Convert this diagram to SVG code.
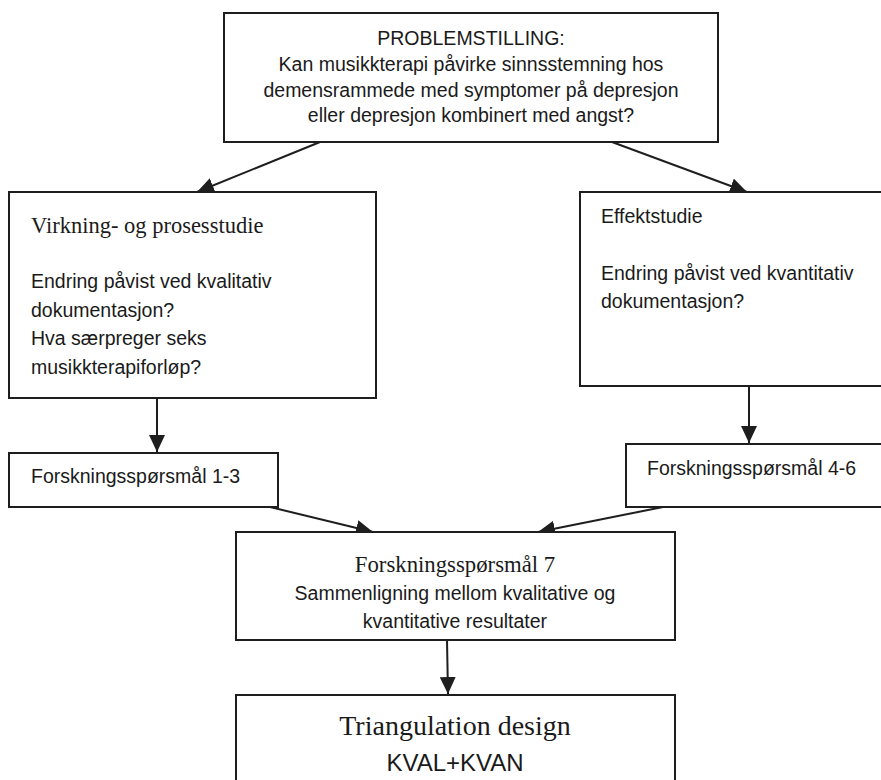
<svg xmlns="http://www.w3.org/2000/svg" width="881" height="780" viewBox="0 0 881 780">
<style>
.box{fill:#fff;stroke:#1e1e1e;stroke-width:2}
.sans{font-family:"Liberation Sans",Arial,sans-serif;font-size:19.5px;fill:#1a1a1a}
.serif{font-family:"Liberation Serif","Times New Roman",serif;fill:#1a1a1a}
.mid{text-anchor:middle}
.conn{stroke:#1e1e1e;stroke-width:2;fill:none;marker-end:url(#ah)}
</style>
<defs>
<marker id="ah" markerUnits="userSpaceOnUse" markerWidth="17" markerHeight="16" refX="17" refY="8" orient="auto">
<path d="M0,0 L17,8 L0,16 z" fill="#1e1e1e"/>
</marker>
</defs>
<rect width="881" height="780" fill="#fff"/>
<g id="connectors">
<line class="conn" x1="320" y1="142" x2="197" y2="192"/>
<line class="conn" x1="612" y1="142" x2="747" y2="192"/>
<line class="conn" x1="157" y1="398" x2="157" y2="452"/>
<line class="conn" x1="749" y1="386" x2="749" y2="443"/>
<line class="conn" x1="270" y1="507" x2="373" y2="532"/>
<line class="conn" x1="663" y1="507" x2="538" y2="532"/>
<line class="conn" x1="447" y1="640" x2="448" y2="694"/>
</g>
<g id="problem">
<rect class="box" x="224" y="13" width="494" height="129"/>
<text class="sans mid" x="471" y="45">PROBLEMSTILLING:</text>
<text class="sans mid" x="471" y="71">Kan musikkterapi påvirke sinnsstemning hos</text>
<text class="sans mid" x="471" y="96.5">demensrammede med symptomer på depresjon</text>
<text class="sans mid" x="471" y="122">eller depresjon kombinert med angst?</text>
</g>
<g id="virkning">
<rect class="box" x="9" y="192" width="367" height="206"/>
<text class="serif" x="31" y="233" style="font-size:22.5px">Virkning- og prosesstudie</text>
<text class="sans" x="31" y="288">Endring påvist ved kvalitativ</text>
<text class="sans" x="31" y="317">dokumentasjon?</text>
<text class="sans" x="31" y="345">Hva særpreger seks</text>
<text class="sans" x="31" y="374">musikkterapiforløp?</text>
</g>
<g id="effekt">
<rect class="box" x="580" y="192" width="310" height="194"/>
<text class="sans" x="601" y="223">Effektstudie</text>
<text class="sans" x="601" y="280">Endring påvist ved kvantitativ</text>
<text class="sans" x="601" y="308">dokumentasjon?</text>
</g>
<g id="fs13">
<rect class="box" x="9" y="453" width="269" height="54"/>
<text class="sans" x="31" y="483">Forskningsspørsmål 1-3</text>
</g>
<g id="fs46">
<rect class="box" x="626" y="444" width="264" height="63"/>
<text class="sans" x="647" y="475">Forskningsspørsmål 4-6</text>
</g>
<g id="fs7">
<rect class="box" x="236" y="532" width="439" height="108"/>
<text class="serif mid" x="455" y="572" style="font-size:22.75px">Forskningsspørsmål 7</text>
<text class="sans mid" x="455" y="600">Sammenligning mellom kvalitative og</text>
<text class="sans mid" x="455" y="628">kvantitative resultater</text>
</g>
<g id="design">
<rect class="box" x="236" y="695" width="439" height="100"/>
<text class="serif mid" x="455" y="735" style="font-size:28px">Triangulation design</text>
<text class="sans mid" x="455" y="771" style="font-size:24px">KVAL+KVAN</text>
</g>
</svg>
